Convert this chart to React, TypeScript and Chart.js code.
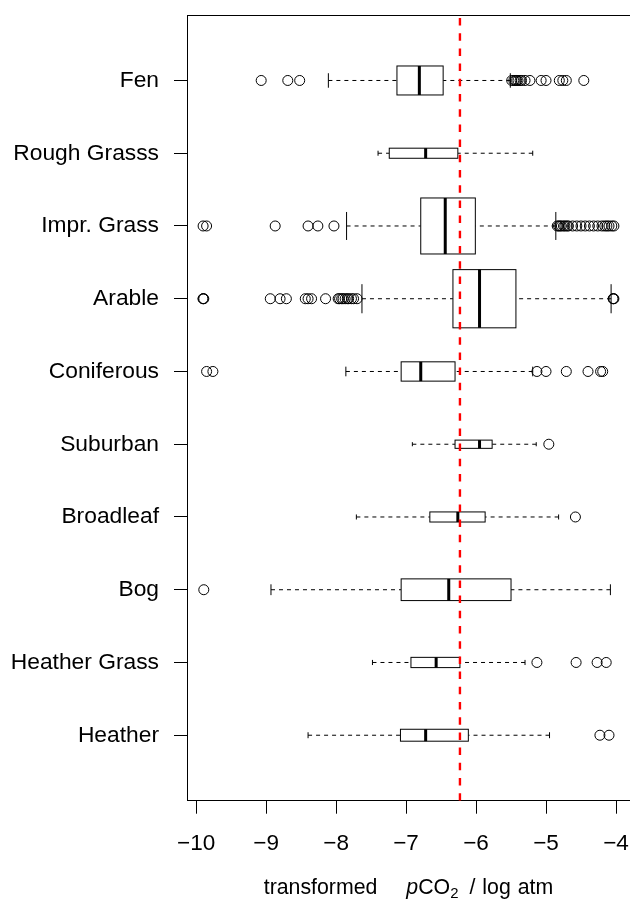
import React, { useEffect, useRef } from "react";
import { Chart, registerables } from "chart.js";

Chart.register(...registerables);

// Categories listed from bottom (position 1) to top (position 10)
const categories = [
  "Heather",
  "Heather Grass",
  "Bog",
  "Broadleaf",
  "Suburban",
  "Coniferous",
  "Arable",
  "Impr. Grass",
  "Rough Grasss",
  "Fen",
];

// Group sizes (box heights are proportional to sqrt(n), as in varwidth boxplots)
const counts = [42, 31, 139, 30, 20, 110, 1000, 926, 30, 248];

const whiskerLow = [-8.4, -7.48, -8.93, -7.71, -6.91, -7.86, -7.63, -7.85, -7.4, -8.11];
const q1 = [-7.08, -6.93, -7.07, -6.66, -6.3, -7.07, -6.33, -6.79, -7.24, -7.13];
const median = [-6.72, -6.57, -6.39, -6.26, -5.95, -6.79, -5.95, -6.44, -6.72, -6.81];
const q3 = [-6.11, -6.23, -5.5, -5.87, -5.77, -6.3, -5.43, -6.01, -6.26, -6.47];
const whiskerHigh = [-4.95, -5.3, -4.08, -4.82, -5.14, -5.19, -4.07, -4.86, -5.19, -5.51];

const outliers: number[][] = [
  [-4.23, -4.1],
  [-5.13, -4.57, -4.27, -4.14],
  [-9.89],
  [-4.58],
  [-4.96],
  [-9.85, -9.76, -5.13, -5.0, -4.71, -4.4, -4.22, -4.19],
  [
    -9.9, -9.89, -9.9, -8.94, -8.8, -8.71, -8.44, -8.4, -8.35, -8.15, -7.97, -7.95, -7.92, -7.9,
    -7.87, -7.84, -7.82, -7.78, -7.75, -7.7, -4.04, -4.03, -4.04,
  ],
  [
    -9.9, -9.85, -8.87, -8.4, -8.26, -8.03, -4.84, -4.82, -4.8, -4.78, -4.75, -4.73, -4.7, -4.68,
    -4.62, -4.56, -4.5, -4.44, -4.38, -4.32, -4.26, -4.2, -4.16, -4.13, -4.1, -4.06, -4.03,
  ],
  [],
  [
    -9.07, -8.69, -8.52, -5.49, -5.46, -5.44, -5.42, -5.4, -5.37, -5.35, -5.3, -5.23, -5.07, -5.0,
    -4.81, -4.76, -4.71, -4.46,
  ],
];

const referenceValue = -6.23;
const xTicks = [-10, -9, -8, -7, -6, -5, -4];
const xMin = -10.13;
const xMax = -3.8;
const yMin = 0.1;
const yMax = 10.9;

const FONT = "'Liberation Sans', Arial, Helvetica, sans-serif";

const boxPlugin = {
  id: "boxes",
  beforeDatasetsDraw(chart: any) {
    const { ctx, scales } = chart;
    const x = scales.x;
    const y = scales.y;
    const nMax = Math.max(...counts);
    const px = (v: number) => x.getPixelForValue(v);
    ctx.save();
    ctx.strokeStyle = "#000";
    categories.forEach((_, i) => {
      const pos = i + 1;
      const half = 0.4 * Math.sqrt(counts[i] / nMax);
      const yc = y.getPixelForValue(pos);
      const yTop = y.getPixelForValue(pos + half);
      const yBot = y.getPixelForValue(pos - half);
      const sTop = y.getPixelForValue(pos + half * 0.5);
      const sBot = y.getPixelForValue(pos - half * 0.5);

      // whiskers (dashed)
      ctx.lineWidth = 1;
      ctx.setLineDash([4, 4]);
      ctx.beginPath();
      ctx.moveTo(px(whiskerLow[i]), yc);
      ctx.lineTo(px(q1[i]), yc);
      ctx.stroke();
      ctx.beginPath();
      ctx.moveTo(px(whiskerHigh[i]), yc);
      ctx.lineTo(px(q3[i]), yc);
      ctx.stroke();
      ctx.setLineDash([]);

      // staples
      ctx.beginPath();
      ctx.moveTo(px(whiskerLow[i]), sTop);
      ctx.lineTo(px(whiskerLow[i]), sBot);
      ctx.moveTo(px(whiskerHigh[i]), sTop);
      ctx.lineTo(px(whiskerHigh[i]), sBot);
      ctx.stroke();

      // box fill
      ctx.fillStyle = "#fff";
      ctx.fillRect(px(q1[i]), yTop, px(q3[i]) - px(q1[i]), yBot - yTop);

      // median
      ctx.lineWidth = 3;
      ctx.lineCap = "butt";
      ctx.beginPath();
      ctx.moveTo(px(median[i]), yTop);
      ctx.lineTo(px(median[i]), yBot);
      ctx.stroke();

      // box border
      ctx.lineWidth = 1;
      ctx.strokeRect(px(q1[i]), yTop, px(q3[i]) - px(q1[i]), yBot - yTop);
    });
    ctx.restore();
  },
};

const titleParts = [
  { text: "transformed", style: "normal", scale: 1, dy: 0, gapAfter: 29 },
  { text: "p", style: "italic", scale: 1, dy: 0, gapAfter: 0 },
  { text: "CO", style: "normal", scale: 1, dy: 0, gapAfter: 0 },
  { text: "2", style: "normal", scale: 0.7, dy: 4, gapAfter: 11 },
  { text: "/", style: "normal", scale: 1, dy: 0, gapAfter: 7 },
  { text: "log", style: "normal", scale: 1, dy: 0, gapAfter: 7 },
  { text: "atm", style: "normal", scale: 1, dy: 0, gapAfter: 0 },
];

const framePlugin = {
  id: "frame",
  afterDraw(chart: any) {
    const { ctx, chartArea } = chart;
    ctx.save();
    ctx.strokeStyle = "#000";
    ctx.lineWidth = 1;
    ctx.beginPath();
    ctx.moveTo(chartArea.left, Math.round(chartArea.top) + 0.5);
    ctx.lineTo(chartArea.right, Math.round(chartArea.top) + 0.5);
    ctx.stroke();

    // x axis title with italic p and subscript 2
    const size = 21.3;
    const fontFor = (p: any) => `${p.style === "italic" ? "italic " : ""}${size * p.scale}px ${FONT}`;
    let total = 0;
    const widths = titleParts.map((p, i) => {
      ctx.font = fontFor(p);
      const w = ctx.measureText(p.text).width;
      total += w + (i < titleParts.length - 1 ? p.gapAfter : 0);
      return w;
    });
    let cx = (chartArea.left + chartArea.right) / 2 - total / 2;
    const baseline = 894;
    ctx.fillStyle = "#000";
    ctx.textBaseline = "alphabetic";
    ctx.textAlign = "left";
    titleParts.forEach((p, i) => {
      ctx.font = fontFor(p);
      ctx.fillText(p.text, cx, baseline + p.dy);
      cx += widths[i] + p.gapAfter;
    });
    ctx.restore();
  },
};

export default function App() {
  const canvasRef = useRef<HTMLCanvasElement | null>(null);

  useEffect(() => {
    if (!canvasRef.current) return;
    const outlierPoints: { x: number; y: number }[] = [];
    outliers.forEach((arr, i) => arr.forEach((v) => outlierPoints.push({ x: v, y: i + 1 })));

    const chart = new Chart(canvasRef.current, {
      type: "scatter",
      data: {
        datasets: [
          {
            label: "outliers",
            data: outlierPoints,
            pointStyle: "circle",
            pointRadius: 5,
            pointBorderWidth: 1,
            pointBorderColor: "#000",
            pointBackgroundColor: "rgba(0,0,0,0)",
            showLine: false,
          } as any,
          {
            label: "reference",
            data: [
              { x: referenceValue, y: yMin },
              { x: referenceValue, y: yMax },
            ],
            showLine: true,
            borderColor: "#ff0000",
            borderWidth: 2.4,
            borderDash: [7.5, 7.7],
            pointRadius: 0,
            fill: false,
          } as any,
        ],
      },
      options: {
        animation: false,
        responsive: false,
        devicePixelRatio: 1,
        events: [],
        layout: { autoPadding: false, padding: { top: 15, left: 0, right: 0, bottom: 0 } },
        plugins: {
          legend: { display: false },
          tooltip: { enabled: false },
          title: { display: false },
        },
        scales: {
          x: {
            type: "linear",
            position: "bottom",
            min: xMin,
            max: xMax,
            afterBuildTicks: (s: any) => {
              s.ticks = xTicks.map((v) => ({ value: v }));
            },
            afterFit: (s: any) => {
              s.height = 102.3;
              s.paddingLeft = 0;
              s.paddingRight = 0;
            },
            ticks: {
              callback: (v: any) => (Number(v) < 0 ? "\u2212" : "") + Math.abs(Number(v)),
              font: { size: 22.5, family: FONT },
              color: "#000",
              padding: 17,
              maxRotation: 0,
              autoSkip: false,
            },
            grid: { drawOnChartArea: false, tickLength: 13, tickColor: "#000", color: "#000" },
            border: { display: true, color: "#000", width: 1 },
          },
          y: {
            type: "linear",
            min: yMin,
            max: yMax,
            afterBuildTicks: (s: any) => {
              s.ticks = categories.map((_, i) => ({ value: i + 1 }));
            },
            afterFit: (s: any) => {
              s.width = 187;
              s.paddingTop = 0;
              s.paddingBottom = 0;
            },
            ticks: {
              callback: (v: any) => categories[Math.round(Number(v)) - 1] ?? "",
              font: { size: 22.8, family: FONT },
              color: "#000",
              padding: 15,
              autoSkip: false,
            },
            grid: { drawOnChartArea: false, tickLength: 13, tickColor: "#000", color: "#000" },
            border: { display: true, color: "#000", width: 1 },
          },
        },
      } as any,
      plugins: [boxPlugin, framePlugin],
    });
    return () => chart.destroy();
  }, []);

  return (
    <div style={{ position: "absolute", left: 0, top: 0, width: 630, height: 903, background: "#fff" }}>
      <canvas ref={canvasRef} width={630} height={903} style={{ display: "block" }} />
    </div>
  );
}
